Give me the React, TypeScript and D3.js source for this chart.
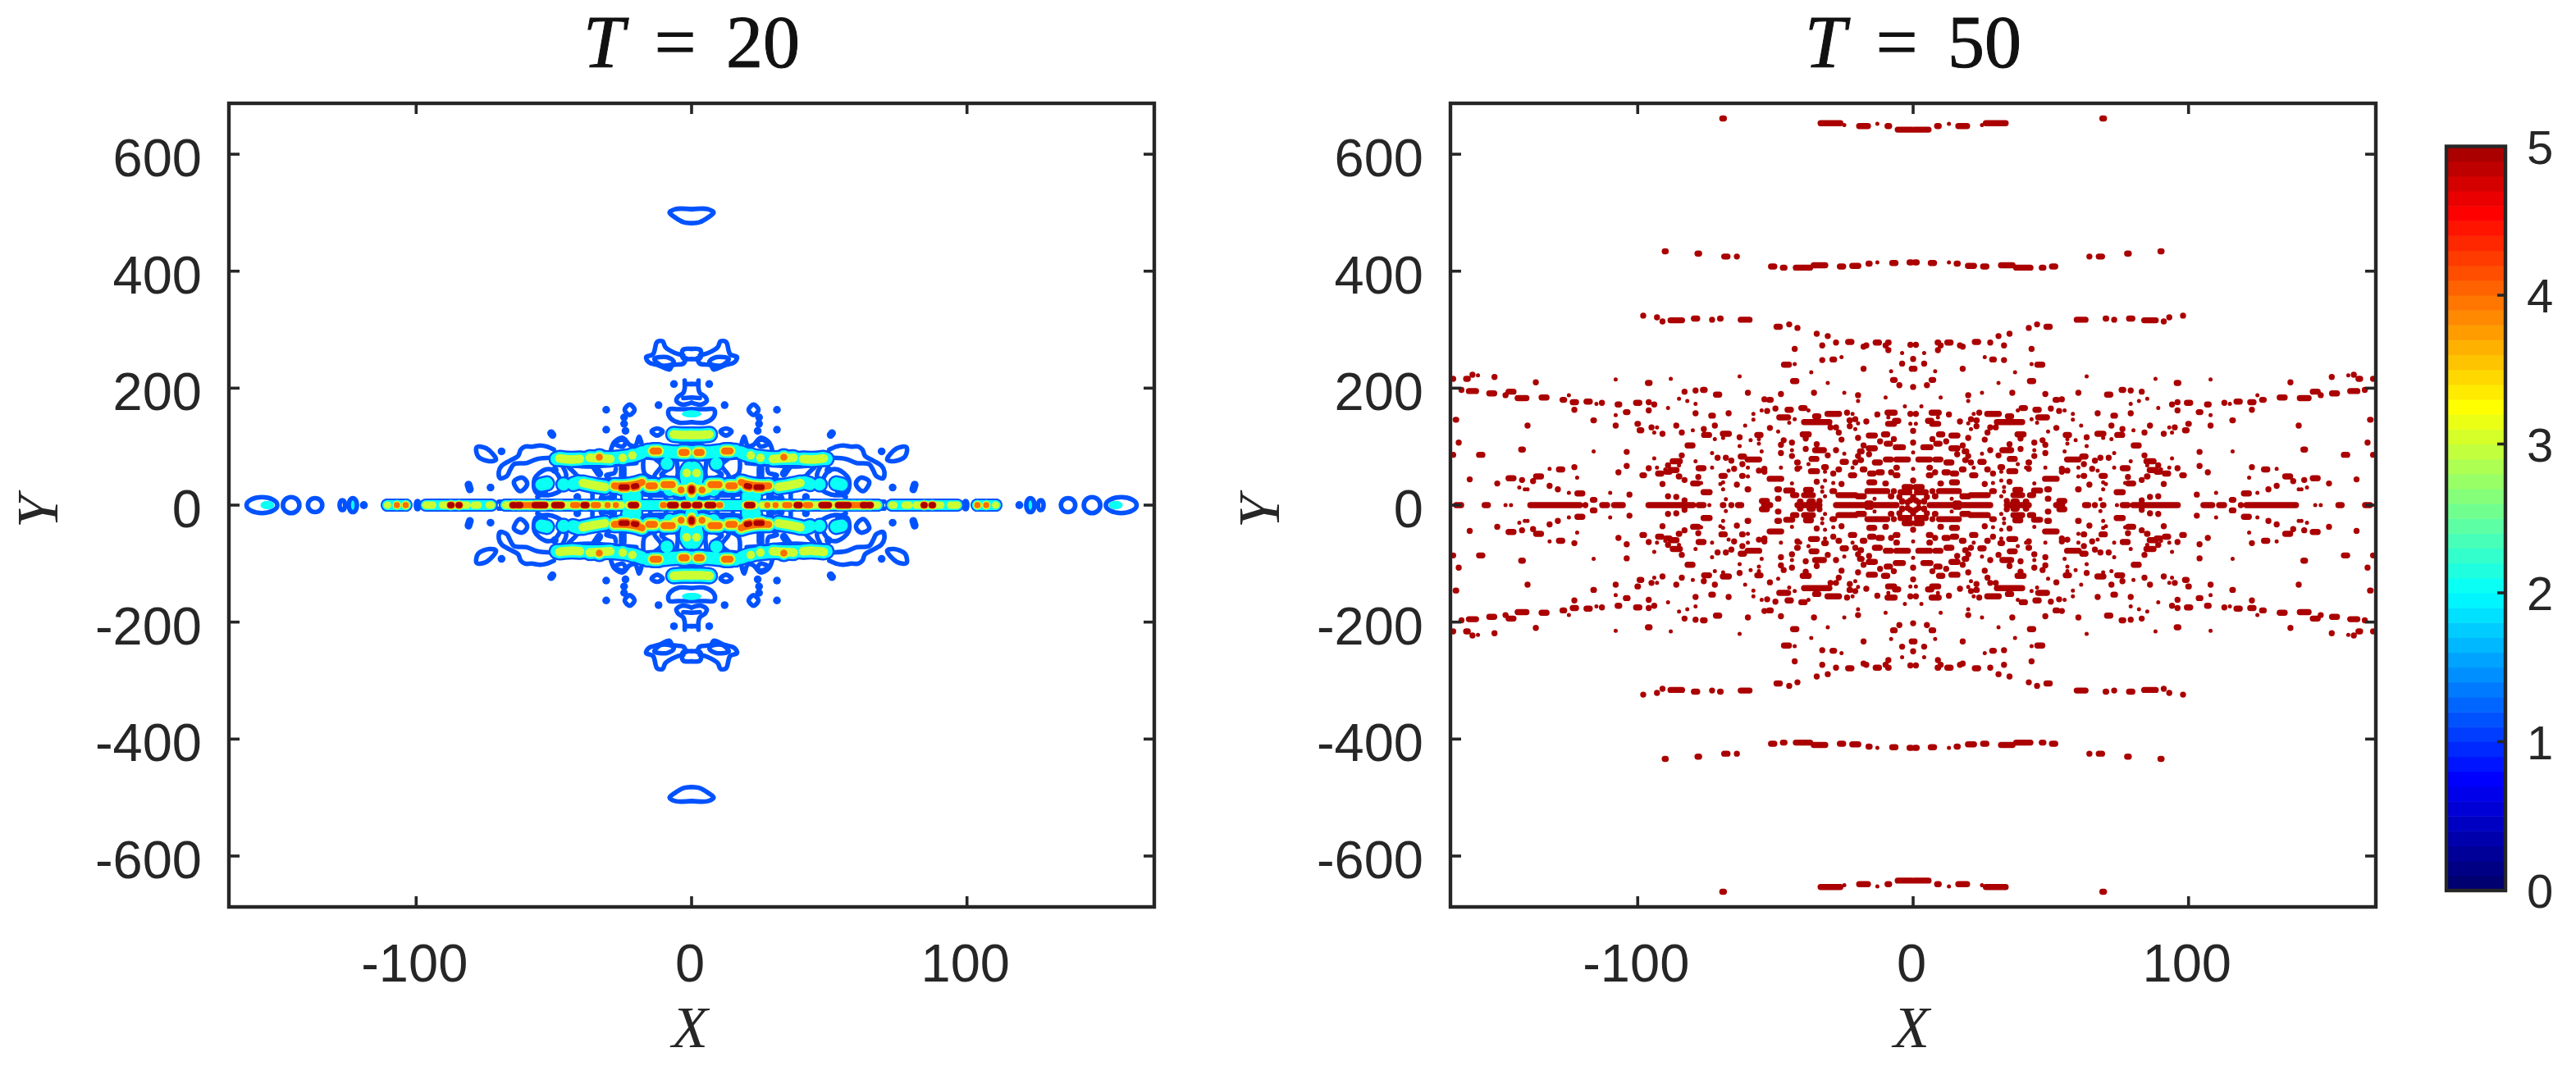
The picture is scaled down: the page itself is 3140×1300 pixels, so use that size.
import React from "react";
import * as d3 from "d3";

const WIDTH = 3140;
const HEIGHT = 1300;
const PANELS = [
  { title: "20", left: 279, right: 1407, cx: 843 },
  { title: "50", left: 1768, right: 2896, cx: 2332 },
];
const PLOT_TOP = 126;
const PLOT_BOTTOM = 1106;
const INK = "#262626";

const X_LIMIT = 168;
const Y_LIMIT = 687;
const X_TICKS = [-100, 0, 100];
const Y_TICKS = [-600, -400, -200, 0, 200, 400, 600];
const COLORBAR_TICKS = [0, 1, 2, 3, 4, 5];
const COLORBAR_STEP = 0.1;

const JET_STOPS = [0, 0.15, 0.4, 0.65, 0.91, 0.99];
const JET_COLORS = ["#000066", "#0000ff", "#00ffff", "#ffff00", "#ff0000", "#aa0000"];
const jet = d3.scaleLinear<string>().domain(JET_STOPS.map((t) => t * 5)).range(JET_COLORS).clamp(true);

// contour levels at T = 20, by how many layers a ridge stacks
const LAYER_LEVELS = [1.15, 2.05, 3, 4, 5];
const RIDGE_WIDTHS: Record<number, number[]> = {
  2: [20, 15],
  3: [21, 16, 10.5],
  4: [22, 17, 13, 8.5],
  5: [22, 18, 14, 11, 7],
};
const AXIS_WIDTHS: Record<number, number[]> = {
  2: [16, 12],
  3: [16, 12, 9],
  4: [16, 13, 10.5, 7.5],
  5: [16, 13, 11, 9, 7.5],
};
const OUTLINE_WIDTH = 5.6;

type Pt = [number, number];
type Pt3 = [number, number, number];

// T = 20, everything is read in the upper right quadrant and mirrored
const AXIS_RUNS: Pt3[] = [
  [2, 67.6, 2], [73.2, 95.6, 2], [103.7, 110.5, 2],
  [0.5, 10, 3], [19.5, 23, 3], [25.5, 67.5, 3], [72.7, 73.5, 3], [77.5, 79, 3], [81.5, 90.5, 3], [94, 96.5, 3],
  [103.8, 103.8, 3], [107, 107, 3], [110.4, 110.4, 3],
  [10, 10.4, 4], [27.5, 27.5, 4], [30.5, 30.5, 4], [34, 35.5, 4], [41.5, 43, 4], [58, 59.5, 4], [60.5, 61.5, 4],
  [103.8, 103.8, 4], [107, 107, 4],
  [1.3, 2.8, 5], [5.8, 7.8, 5], [20.2, 22, 5], [38.2, 39.2, 5], [47.2, 49.8, 5], [53.2, 57, 5], [62.2, 63.2, 5], [64.4, 65, 5],
  [84.3, 84.6, 5], [87.2, 87.6, 5],
];

const AXIS_RINGS: [number, number, number, number][] = [
  [99.5, 0.6, 7, 2], [123, 1.5, 12, 2], [126.8, 1, 8.5, 0], [136.7, 2.6, 12, 0], [145.4, 3, 13.6, 0], [156, 5.6, 13.6, 0],
];
const CYAN_SPOTS: [number, number, number, number][] = [
  [154, 0, 2.5, 7], [0, 156, 3.5, 6],
];

const RIDGES: { level: number; pts: Pt[] }[] = [
  { level: 2, pts: [[0, 90], [6, 90], [10, 92], [16, 93]] },
  { level: 2, pts: [[18, 90], [21, 85], [30, 80], [40, 79], [49, 79]] },
  { level: 2, pts: [[46.5, 35.5], [46.5, 35.5]] },
  { level: 2, pts: [[52.5, 37], [54.5, 35]] },
  { level: 2, pts: [[9, 71], [9, 71]] },
  { level: 2, pts: [[1, 64], [2, 55], [1.5, 38]] },
  { level: 2, pts: [[0, 40], [0, 15]] },
  { level: 2, pts: [[41, 39], [43, 36]] },
  { level: 2, pts: [[23, 14.5], [23, 14.5]] },
  { level: 2, pts: [[20.5, 16], [20.5, 10]] },
  { level: 2, pts: [[7, 30], [8, 26]] },
  { level: 3, pts: [[0, 120], [3.5, 120], [6.5, 121]] },
  { level: 3, pts: [[21.5, 85], [21.5, 85]] },
  { level: 3, pts: [[25, 81], [25, 81]] },
  { level: 3, pts: [[29.5, 79], [33, 80], [37, 81]] },
  { level: 3, pts: [[40.5, 79], [44, 78], [48, 80]] },
  { level: 3, pts: [[31.5, 31], [35.5, 34], [39.5, 38]] },
  { level: 3, pts: [[1.8, 55], [1.8, 55]] },
  { level: 3, pts: [[0, 32], [0, 20]] },
  { level: 3, pts: [[2, 28], [4, 26], [6, 28]] },
  { level: 3, pts: [[6.5, 35], [10, 35]] },
  { level: 3, pts: [[13, 33], [16, 33]] },
  { level: 4, pts: [[33.5, 82], [33.5, 82]] },
  { level: 4, pts: [[2, 90], [3.5, 90]] },
  { level: 4, pts: [[12, 92.5], [14, 92.5]] },
  { level: 4, pts: [[7, 35], [10, 35]] },
  { level: 4, pts: [[13.5, 33], [15.5, 33]] },
  { level: 4, pts: [[3.8, 26], [3.8, 26]] },
  { level: 4, pts: [[18, 39], [20, 36], [24, 33], [28, 33]] },
  { level: 5, pts: [[20, 33], [21, 32]] },
  { level: 5, pts: [[23.5, 31], [25.5, 31]] },
  { level: 5, pts: [[0, 28], [0, 25]] },
];

const OPEN_OUTLINES: Pt[][] = [
  [[0, 506], [6, 506], [8, 500], [6, 492], [3, 484], [0, 482]],
  [[0, 267], [3, 266], [3.5, 258], [3, 251], [0, 250]],
  [[3, 256], [6, 260], [9.5, 270], [10.5, 280], [12.5, 279], [14, 258], [16.5, 253], [15.5, 244], [12, 239], [8, 232], [7, 239], [3, 242], [2, 251]],
  [[2.5, 213], [2.5, 200], [3, 192], [5, 185], [5.5, 178], [3.5, 172], [0, 175]],
  [[0, 207], [2.5, 207]],
  [[0, 184], [3, 183]],
  [[0, 164], [5, 164], [8, 164], [8.5, 157], [7.5, 148], [4.5, 141], [0, 142]],
  [[50, 95], [52.5, 100], [55, 102], [58, 100], [60.5, 100], [62, 95], [63, 84], [66, 76], [69, 67], [70, 57], [69.5, 46], [67, 50], [66, 59], [64.5, 70], [60, 72], [56, 79], [51, 81]],
  [[18, 101], [19, 117], [20.5, 101], [22.5, 103], [25, 115], [28, 108], [29.3, 94]],
  [[0, 80], [6, 78], [13, 80], [18, 82]],
  [[20, 72], [30, 68], [38, 66], [48, 70]],
  [[13, 78], [11, 68], [13.5, 50], [13, 45]],
  [[17.5, 78], [17, 54], [13, 45]],
  [[5.5, 78], [5, 54], [5.5, 45]],
  [[8, 62], [11, 52], [8, 46]],
  [[27.5, 62], [28, 55], [31, 51], [30, 46]],
  [[44.5, 64], [41, 45], [43, 40]],
  [[47, 68], [45.5, 50], [47, 36]],
  [[0, 45], [7, 45], [13, 43], [20, 45], [30, 43], [42, 43]],
  [[6, 17], [15, 17], [20, 21]],
  [[10, 24], [9, 6]],
  [[15, 24], [15, 5]],
  [[19, 17], [20, 5]],
  [[27, 24], [30, 10]],
  [[31, 24], [33, 12], [29, 14]],
  [[3, 22], [8, 20], [12, 24]],
  [[1, 18], [3, 8], [6, 14]],
  [[0, 6], [70, 6]],
  [[36, 24], [36, 12]],
  [[53, 22], [56, 14]],
];
const CLOSED_OUTLINES: Pt[][] = [
  [[6.5, 246], [9, 253], [13.5, 250], [11, 239], [7, 241]],
  [[10.5, 126], [12.5, 131], [14.5, 126], [12.5, 119]],
  [[20.7, 163], [22.5, 172], [24.3, 163], [22.5, 154]],
  [[71, 78], [74.5, 97], [78, 99], [77.5, 83], [73.5, 75]],
  [[59.7, 38], [61.5, 47], [64.5, 40], [62.5, 24], [60.5, 29]],
  [[50, 59], [53, 61], [57, 45], [56.5, 22], [52, 17], [47, 28], [47.5, 42]],
  [[24, 108], [25, 112], [28, 106], [25, 100]],
];
const BLUE_SMEARS: Pt[][] = [
  [[6.4, 207], [6.4, 207]],
  [[12, 171], [12, 171]],
  [[31, 163], [31, 163]],
  [[24.5, 150], [24.5, 150]],
  [[24.5, 139], [24.5, 139]],
  [[24, 127], [24, 127]],
  [[31, 129], [31, 129]],
  [[51, 123], [50.5, 120]],
  [[69, 92], [69, 92]],
  [[73, 30], [73, 30]],
  [[81, 35], [80.5, 27]],
  [[25, 63], [25, 47]],
  [[36, 71], [33.5, 54]],
  [[49.7, 60], [49.7, 60]],
  [[41.5, 14], [41.5, 14]],
  [[28.5, 20], [28.5, 12]],
  [[0, 110], [0, 97]],
  [[119, 0], [119, 0]],
];

// T = 50, [x, y, half length] of the larger patches
const BLOBS: Pt3[] = [
  [3, 642, 2.6], [9, 648, 0.3], [18, 648, 1.6], [30, 653, 3.6], [69, 661, 0.3],
  [1, 415, 0.3], [7, 414, 0.6], [16, 413, 0.2], [21, 409, 1.1], [26, 408, 0.6], [34, 410, 2.1], [40, 406, 2.6], [47, 406, 0.3], [51, 408, 0.6],
  [64, 425, 0], [68, 425, 0.6], [78, 430, 0.3], [90, 434, 0.2],
  [61, 317, 1.6], [70, 319, 0.1], [73, 317, 0], [79, 319, 0.6], [86, 316, 2.1], [91, 314, 0], [93, 321, 0], [98, 324, 0],
  [42, 303, 0], [45, 309, 0], [49, 305, 0.6], [35, 293, 0], [31, 289, 0], [23, 279, 0.6], [28, 278, 0], [33, 273, 0],
  [9, 278, 0.1], [13, 278, 0.6], [10, 273, 0], [1, 274, 0], [17, 273, 0], [18, 271, 0], [9, 265, 0], [43, 267, 0],
  [29, 249, 0.3], [33, 248, 0], [46, 240, 0.9], [4, 242, 0], [0, 250, 0], [0.5, 233, 0], [18, 233, 0],
  [96, 209, 0.3], [137, 210, 0], [152, 219, 0], [160, 223, 0], [162, 216, 0.3], [167, 216, 0],
  [7, 214, 0.3], [5, 205, 0], [0, 202, 0], [43, 212, 0.6], [20, 188, 0], [36, 192, 0], [48, 190, 0], [60, 192, 0], [71, 189, 0.6],
  [76, 197, 0.3], [79, 196, 0], [83, 194, 0], [52, 180, 0.3], [54, 181, 0],
  [164, 197, 0], [160, 195, 1.3], [153, 191, 0.9], [148, 188, 0], [146, 194, 0.9], [142, 183, 1.6], [134, 184, 0.9], [127, 180, 0.3],
  [123, 176, 0.6], [118, 177, 0.6], [113, 175, 0], [107, 172, 0.3], [100, 175, 0.6], [96, 176, 0], [94, 172, 0],
  [96, 162, 0], [123, 163, 0], [104, 159, 0.3], [116, 145, 0.1], [166, 146, 0.1], [100, 139, 0.1], [108, 136, 0], [95, 133, 0], [140, 136, 0],
  [99, 128, 0.3], [91, 122, 0], [165, 107, 0], [142, 95, 0.3], [104, 91, 0], [157, 86, 0.6], [167, 86, 0],
  [89, 68, 0], [104, 67, 0], [96, 63, 0], [123, 65, 0], [128, 61, 0.6], [89, 57, 0.6], [92, 54, 0.6], [98, 51, 0.3], [107, 56, 0],
  [136, 49, 0.9], [138, 41, 0], [142, 43, 0], [146, 46, 0.9], [161, 44, 0], [91, 36, 0], [151, 37, 0], [132, 33, 0], [129, 27, 0],
  [121, 20, 0.9], [103, 18, 0], [116, 9, 0.3],
  [40, 166, 0.6], [45, 163, 0.6], [50, 165, 0], [53, 161, 0], [67, 157, 0], [79, 157, 0], [73, 153, 0.3],
  [1, 156, 0], [8, 158, 1.3], [13, 155, 0], [24, 158, 0], [29, 156, 2.1], [35, 152, 0.6], [47, 150, 1.6], [6, 144, 0.6], [8, 139, 1.1],
  [17, 143, 0], [21, 147, 0], [23, 145, 0.1], [23, 135, 0], [35, 142, 4.6], [28, 133, 0], [30, 133, 0], [52, 132, 0], [72, 136, 0], [76, 130, 0], [86, 136, 0], [84, 124, 0],
  [0, 127, 0], [10, 121, 0.6], [15, 119, 1.1], [27, 124, 0], [39, 121, 1.1], [56, 120, 0.6], [68, 122, 1.1], [75, 120, 0.9], [63, 116, 0],
  [20, 115, 0], [7, 113, 0], [26, 112, 0], [39, 114, 0], [47, 111, 0], [12, 109, 0], [9, 105, 0.6], [0, 107, 0], [44, 107, 0], [48, 103, 0], [18, 102, 0], [81, 102, 0.9],
  [35, 104, 0], [39, 96, 0], [5, 99, 1.3], [15, 97, 1.1], [34, 94, 1.6], [28, 94, 0], [19, 92, 0.3], [16, 87, 0], [31, 85, 0], [48, 89, 0], [44, 84, 0], [84, 85, 0], [20, 84, 0],
  [36, 79, 0.9], [4, 78, 2.1], [9, 78, 0.9], [13, 73, 0.9], [19, 77, 0.1], [21, 73, 0], [25, 74, 0.6], [58, 78, 2.1], [62, 83, 0.6], [68, 81, 0], [66, 76, 0], [71, 81, 0],
  [86, 75, 1.3], [42, 73, 0.1], [62, 70, 0], [6, 64, 0.1], [32, 65, 0.3], [27, 61, 0.1], [42, 62, 0], [77, 63, 0.9], [87, 60, 1.1], [65, 62, 0], [54, 62, 0],
  [18, 61, 0.3], [36, 58, 1.1], [29, 54, 0], [8, 56, 0], [12, 56, 0.6], [15, 54, 0.6], [54, 57, 0], [56, 59, 0], [6, 51, 0.3], [22, 51, 0.6], [62, 50, 0.1], [69, 50, 0.6], [78, 48, 0], [85, 49, 0.1], [83, 43, 0],
  [35, 40, 0], [50, 45, 2.1], [15, 39, 0.9], [10, 37, 0.1], [26, 36, 0], [64, 35, 0], [79, 37, 0.9],
  [2, 31, 1.1], [7, 24, 0], [13, 24, 3.6], [3, 22, 1.6], [24, 17, 3.1], [29, 24, 0.3], [38, 26, 0.9], [38, 17, 1.6], [45, 25, 1.1], [43, 17, 0.6], [49, 27, 0.3], [60, 27, 0.1], [75, 22, 1.1],
  [19, 15, 1.1], [8, 15, 0.1], [49, 11, 0.1], [86, 14, 0], [89, 15, 0], [1, 8, 0], [4, 7, 0], [34, 7, 0], [54, 7, 0.9], [83, 8, 0], [37, 6, 0.6], [41, 6, 0.1], [16, 3, 0.6],
  [0, 42, 0], [1, 30, 0], [3, 24, 0], [5, 14, 0], [4, 6, 0], [0, 14, 0], [2, 5, 0],
  [17, 0, 11], [35, 0, 0], [38, 0, 4], [53, 0, 1.1], [63, 0, 0.6], [66, 0, 0], [69, 0, 0.1], [77, 0, 0.9], [83, 0, 3.1],
  [91, 0, 5.1], [107, 0, 1.6], [112, 0, 0.9], [119, 0, 0], [130, 0, 9], [155, 0, 0.6], [165, 0, 0.9],
];

// T = 50, the smallest specks
const SPECKS: Pt[] = [
  [13, 652], [25, 650], [13, 415], [4, 260], [26, 253], [43, 241], [8, 229], [37, 227], [31, 209], [63, 220], [88, 216], [108, 215], [158, 222],
  [25, 192], [10, 184], [20, 178], [85, 182], [82, 178], [79, 173], [89, 166], [3, 169], [38, 162], [55, 162], [58, 156], [125, 188], [115, 173],
  [9, 150], [22, 156], [43, 147], [45, 141], [58, 146], [108, 154], [1, 139], [20, 140], [21, 130], [61, 136], [93, 133], [80, 128], [49, 126], [94, 124], [69, 115], [72, 113],
  [56, 113], [59, 111], [56, 105], [63, 101], [116, 92], [44, 94], [55, 92], [0, 90], [73, 89], [25, 88], [94, 80], [79, 75], [38, 70], [85, 68], [41, 64], [48, 64], [60, 64], [73, 64], [93, 64],
  [0, 62], [22, 64], [32, 57], [67, 59], [132, 62], [90, 61], [60, 49], [122, 47], [32, 42], [29, 38], [44, 37], [69, 39], [70, 36], [33, 31], [77, 38], [69, 27], [140, 27], [141, 27], [143, 30],
  [125, 21], [110, 21], [33, 23], [32, 15], [68, 10], [14, 11], [74, 0], [146, 0], [148, 0],
];

const QUADRANTS: Pt[] = [[1, 1], [-1, 1], [1, -1], [-1, -1]];

const Panel = ({ panel, children }: { panel: (typeof PANELS)[number]; children: (x: d3.ScaleLinear<number, number>, y: d3.ScaleLinear<number, number>) => React.ReactNode }) => {
  const x = d3.scaleLinear().domain([-X_LIMIT, X_LIMIT]).range([panel.left, panel.right]);
  const y = d3.scaleLinear().domain([-Y_LIMIT, Y_LIMIT]).range([PLOT_BOTTOM, PLOT_TOP]);
  const clipId = `clip-${panel.title}`;
  return (
    <g>
      <clipPath id={clipId}>
        <rect x={panel.left} y={PLOT_TOP} width={panel.right - panel.left} height={PLOT_BOTTOM - PLOT_TOP} />
      </clipPath>
      <g clipPath={`url(#${clipId})`}>{children(x, y)}</g>
      <rect x={panel.left} y={PLOT_TOP} width={panel.right - panel.left} height={PLOT_BOTTOM - PLOT_TOP} fill="none" stroke={INK} strokeWidth={4.4} />
      {X_TICKS.map((t) => (
        <g key={t}>
          <line x1={x(t)} x2={x(t)} y1={PLOT_BOTTOM} y2={PLOT_BOTTOM - 13} stroke={INK} strokeWidth={3.6} />
          <line x1={x(t)} x2={x(t)} y1={PLOT_TOP} y2={PLOT_TOP + 13} stroke={INK} strokeWidth={3.6} />
          <text x={x(t) - 2} y={1197} textAnchor="middle" fontFamily="Liberation Sans" fontSize={65} fill={INK}>{t}</text>
        </g>
      ))}
      {Y_TICKS.map((t) => (
        <g key={t}>
          <line x1={panel.left} x2={panel.left + 13} y1={y(t)} y2={y(t)} stroke={INK} strokeWidth={3.6} />
          <line x1={panel.right} x2={panel.right - 13} y1={y(t)} y2={y(t)} stroke={INK} strokeWidth={3.6} />
          <text x={panel.left - 33} y={y(t) + 27} textAnchor="end" fontFamily="Liberation Sans" fontSize={65} fill={INK}>{t}</text>
        </g>
      ))}
      <text x={panel.cx - 2} y={1277} textAnchor="middle" fontFamily="Liberation Serif" fontStyle="italic" fontSize={72} fill={INK}>X</text>
      <text transform={`translate(${panel.left - 209},${(PLOT_TOP + PLOT_BOTTOM) / 2 + 8}) rotate(-90)`} textAnchor="middle" fontFamily="Liberation Serif" fontStyle="italic" fontSize={72} fill={INK}>Y</text>
      <text x={panel.cx} y={82} textAnchor="middle" fontFamily="Liberation Serif" fontSize={90} fill="#111" stroke="#111" strokeWidth={1} wordSpacing={14}>
        <tspan fontStyle="italic">T</tspan> = {panel.title}
      </text>
    </g>
  );
};

const ContourField = ({ x, y }: { x: d3.ScaleLinear<number, number>; y: d3.ScaleLinear<number, number> }) => {
  const px = (p: Pt, q: Pt): [number, number] => [x(p[0] * q[0]), y(p[1] * q[1])];
  const curve = (pts: Pt[], q: Pt) => d3.line().curve(d3.curveCatmullRom)(pts.map((p) => px(p, q))) ?? "";
  const closed = (pts: Pt[], q: Pt) => d3.line().curve(d3.curveCatmullRomClosed)(pts.map((p) => px(p, q))) ?? "";
  const rx = (v: number) => x(v) - x(0);
  const ry = (v: number) => y(0) - y(v);
  const signs = [1, -1];

  return (
    <g fill="none" strokeLinecap="round" strokeLinejoin="round">
      {LAYER_LEVELS.map((level, layer) => (
        <g key={level} stroke={jet(level)}>
          {RIDGES.filter((r) => r.level > layer).map((r, i) =>
            QUADRANTS.map((q, k) => <path key={`${i}-${k}`} d={curve(r.pts, q)} strokeWidth={RIDGE_WIDTHS[r.level][layer]} />),
          )}
          {AXIS_RUNS.filter((r) => r[2] > layer).map((r, i) =>
            signs.map((s) => (
              <line key={`${i}-${s}`} x1={x(r[0] * s)} x2={x(r[1] * s)} y1={y(0)} y2={y(0)} strokeWidth={AXIS_WIDTHS[r[2]][layer]} />
            )),
          )}
          {layer === 0 && (
            <g>
              {OPEN_OUTLINES.map((pts, i) => QUADRANTS.map((q, k) => <path key={`o${i}-${k}`} d={curve(pts, q)} strokeWidth={OUTLINE_WIDTH} />))}
              {CLOSED_OUTLINES.map((pts, i) => QUADRANTS.map((q, k) => <path key={`c${i}-${k}`} d={closed(pts, q)} strokeWidth={OUTLINE_WIDTH} />))}
              {BLUE_SMEARS.map((pts, i) => QUADRANTS.map((q, k) => <path key={`s${i}-${k}`} d={curve(pts, q)} strokeWidth={9.5} />))}
              {AXIS_RINGS.map((r, i) =>
                signs.map((s) => (
                  <ellipse key={`${i}-${s}`} cx={x(r[0] * s)} cy={y(0)} rx={rx(r[1])} ry={ry(r[2])} strokeWidth={OUTLINE_WIDTH} fill={r[3] ? jet(LAYER_LEVELS[1]) : "none"} />
                )),
              )}
            </g>
          )}
          {layer === 1 &&
            CYAN_SPOTS.map((c, i) =>
              QUADRANTS.map((q, k) => (
                <ellipse key={`${i}-${k}`} cx={x(c[0] * q[0])} cy={y(c[1] * q[1])} rx={rx(c[2])} ry={ry(c[3])} fill={jet(level)} stroke="none" />
              )),
            )}
        </g>
      ))}
    </g>
  );
};

const PatchField = ({ x, y }: { x: d3.ScaleLinear<number, number>; y: d3.ScaleLinear<number, number> }) => {
  const path = (list: Pt3[]) => {
    const p = d3.path();
    for (const [bx, by, w] of list) {
      for (const q of QUADRANTS) {
        p.moveTo(x(q[0] * bx - w), y(q[1] * by));
        p.lineTo(x(q[0] * bx + w) + 0.01, y(q[1] * by));
      }
    }
    return p.toString();
  };
  return (
    <g fill="none" stroke={jet(5)} strokeLinecap="round">
      <path d={path(BLOBS)} strokeWidth={7.4} />
      <path d={path(SPECKS.map(([a, b]) => [a, b, 0] as Pt3))} strokeWidth={5} />
    </g>
  );
};

const Colorbar = () => {
  const left = 2982;
  const right = 3054;
  const y = d3.scaleLinear().domain([0, 5]).range([1086, 178.5]);
  const bands = d3.range(0, 5, COLORBAR_STEP);
  return (
    <g>
      {bands.map((b) => (
        <rect key={b} x={left} width={right - left} y={y(b + COLORBAR_STEP)} height={y(b) - y(b + COLORBAR_STEP) + 0.5} fill={jet(b + COLORBAR_STEP / 2)} />
      ))}
      <rect x={left} y={y(5)} width={right - left} height={y(0) - y(5)} fill="none" stroke={INK} strokeWidth={4.4} />
      {COLORBAR_TICKS.map((t) => (
        <g key={t}>
          {t > 0 && t < 5 && <line x1={right} x2={right - 10} y1={y(t)} y2={y(t)} stroke={INK} strokeWidth={3.6} />}
          <text x={3080} y={y(t) + 21} fontFamily="Liberation Sans" fontSize={58} fill={INK}>{t}</text>
        </g>
      ))}
    </g>
  );
};

export default function App() {
  return (
    <svg width={WIDTH} height={HEIGHT} viewBox={`0 0 ${WIDTH} ${HEIGHT}`} style={{ position: "absolute", left: 0, top: 0, background: "#fff" }}>
      <Panel panel={PANELS[0]}>{(x, y) => <ContourField x={x} y={y} />}</Panel>
      <Panel panel={PANELS[1]}>{(x, y) => <PatchField x={x} y={y} />}</Panel>
      <Colorbar />
    </svg>
  );
}
